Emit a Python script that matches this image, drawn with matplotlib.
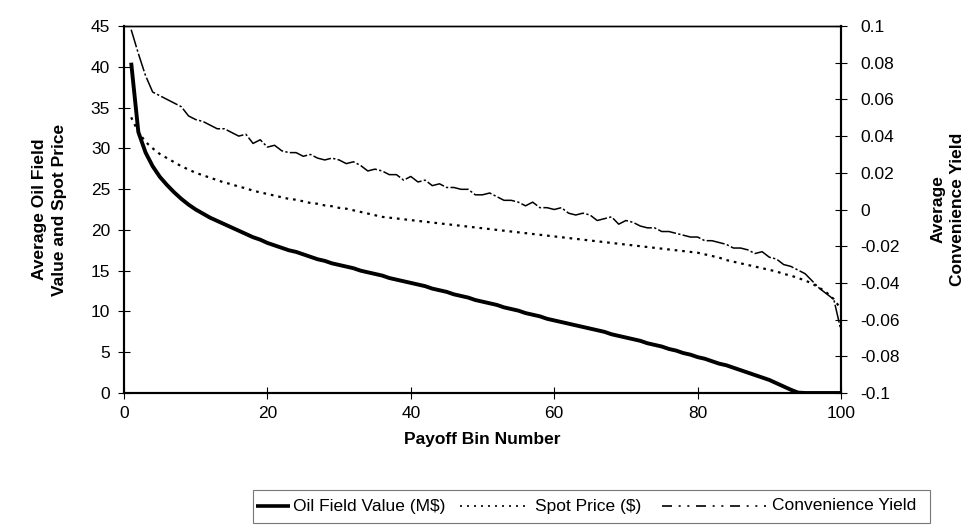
import matplotlib
matplotlib.use("Agg")
import matplotlib.pyplot as plt
from matplotlib.lines import Line2D
from matplotlib.patches import Rectangle

plt.rcParams['font.family'] = ['Liberation Sans', 'DejaVu Sans']

bins = list(range(1, 101))

oil_value = [40.5, 32.0, 29.5, 27.8, 26.5, 25.5, 24.6, 23.8, 23.1, 22.5,
             22.0, 21.5, 21.1, 20.7, 20.3, 19.9, 19.5, 19.1, 18.8, 18.4,
             18.1, 17.8, 17.5, 17.3, 17.0, 16.7, 16.4, 16.2, 15.9, 15.7,
             15.5, 15.3, 15.0, 14.8, 14.6, 14.4, 14.1, 13.9, 13.7, 13.5,
             13.3, 13.1, 12.8, 12.6, 12.4, 12.1, 11.9, 11.7, 11.4, 11.2,
             11.0, 10.8, 10.5, 10.3, 10.1, 9.8, 9.6, 9.4, 9.1, 8.9,
             8.7, 8.5, 8.3, 8.1, 7.9, 7.7, 7.5, 7.2, 7.0, 6.8,
             6.6, 6.4, 6.1, 5.9, 5.7, 5.4, 5.2, 4.9, 4.7, 4.4,
             4.2, 3.9, 3.6, 3.4, 3.1, 2.8, 2.5, 2.2, 1.9, 1.6,
             1.2, 0.8, 0.4, 0.05, 0.0, 0.0, 0.0, 0.0, 0.0, 0.0]

spot_price = [33.8, 32.0, 30.8, 30.0, 29.3, 28.8, 28.3, 27.8, 27.4, 27.0,
              26.7, 26.4, 26.1, 25.8, 25.6, 25.3, 25.1, 24.8, 24.6, 24.4,
              24.2, 24.0, 23.8, 23.7, 23.5, 23.3, 23.2, 23.0, 22.9, 22.7,
              22.6, 22.4, 22.2, 22.0, 21.8, 21.6, 21.5, 21.4, 21.3, 21.2,
              21.1, 21.0, 20.9, 20.8, 20.7, 20.6, 20.5, 20.4, 20.3, 20.2,
              20.1, 20.0, 19.9, 19.8, 19.7, 19.6, 19.5, 19.4, 19.3, 19.2,
              19.1, 19.0, 18.9, 18.8, 18.7, 18.6, 18.5, 18.4, 18.3, 18.2,
              18.1, 18.0, 17.9, 17.8, 17.7, 17.6, 17.5, 17.4, 17.3, 17.2,
              17.0, 16.8, 16.6, 16.3, 16.1, 15.9, 15.7, 15.5, 15.3, 15.1,
              14.9, 14.6, 14.4, 14.1, 13.8, 13.4, 12.9, 12.3, 11.5, 10.3]

conv_yield = [0.098, 0.085, 0.073, 0.064, 0.062, 0.060, 0.058, 0.056, 0.051, 0.049,
              0.048, 0.046, 0.044, 0.044, 0.042, 0.040, 0.041, 0.036, 0.038, 0.034,
              0.035, 0.032, 0.031, 0.031, 0.029, 0.030, 0.028, 0.027, 0.028, 0.027,
              0.025, 0.026, 0.024, 0.021, 0.022, 0.021, 0.019, 0.019, 0.016, 0.018,
              0.015, 0.016, 0.013, 0.014, 0.012, 0.012, 0.011, 0.011, 0.008, 0.008,
              0.009, 0.007, 0.005, 0.005, 0.004, 0.002, 0.004, 0.001, 0.001, 0.000,
              0.001, -0.002, -0.003, -0.002, -0.003, -0.006, -0.005, -0.004, -0.008, -0.006,
              -0.007, -0.009, -0.010, -0.010, -0.012, -0.012, -0.013, -0.014, -0.015, -0.015,
              -0.017, -0.017, -0.018, -0.019, -0.021, -0.021, -0.022, -0.024, -0.023, -0.026,
              -0.027, -0.030, -0.031, -0.033, -0.035, -0.039, -0.043, -0.046, -0.049, -0.066]

x_ticks = [0, 20, 40, 60, 80, 100]
left_ticks = [0, 5, 10, 15, 20, 25, 30, 35, 40, 45]
right_ticks = [-0.1, -0.08, -0.06, -0.04, -0.02, 0, 0.02, 0.04, 0.06, 0.08, 0.1]
right_labels = ['-0.1', '-0.08', '-0.06', '-0.04', '-0.02', '0', '0.02', '0.04', '0.06', '0.08', '0.1']
series_names = ['Oil Field Value (M$)', 'Spot Price ($)', 'Convenience Yield']

W, H = 968, 531
fig = plt.figure(figsize=(W / 100, H / 100), dpi=100)
ax = fig.add_axes([124/W, 1 - 393/H, (841-124)/W, (393-26)/H])
ax2 = ax.twinx()

oil_style = dict(color='black', lw=2.8, solid_capstyle='butt')
spot_style = dict(color='black', lw=1.6, linestyle=(0, (1.2, 2.2)))
cy_style = dict(color='black', lw=1.1, linestyle=(0, (12, 1.5, 1.5, 1.5)))

ax.plot(bins, oil_value, **oil_style)
ax.plot(bins, spot_price, **spot_style)
ax2.plot(bins, conv_yield, **cy_style)

ax.set_xlim(0, 100)
ax.set_ylim(0, 45)
ax2.set_ylim(-0.1, 0.1)
ax.set_xticks(x_ticks)
ax.set_yticks(left_ticks)
ax2.set_yticks(right_ticks)
ax2.set_yticklabels(right_labels)

for a in (ax, ax2):
    for s in a.spines.values():
        s.set_linewidth(1.5)
    a.spines['top'].set_linewidth(1.0)
    a.tick_params(direction='inout', length=8, width=0.8, labelsize=12.5, pad=4)
ax.tick_params(axis='x', pad=5)
ax.tick_params(axis='y', pad=6)
ax2.tick_params(axis='y', pad=10)

ax.set_xlabel('Payoff Bin Number', fontsize=12.5, fontweight='bold', labelpad=8.5)
ax.set_ylabel('Average Oil Field\nValue and Spot Price', fontsize=12.5, fontweight='bold',
              labelpad=17, linespacing=1.4)
ax2.set_ylabel('Average\nConvenience Yield', fontsize=12.5, fontweight='bold',
               labelpad=22, linespacing=1.4)

# Legend box (drawn in figure pixel space, Excel-style spacing)
px = lambda x: x / W
py = lambda y: 1 - y / H
fig.add_artist(Rectangle((px(253), py(523)), px(930) - px(253), py(490) - py(523),
                         transform=fig.transFigure, fill=False, edgecolor='#777777', lw=0.8))
ly = py(506)
legend_items = [
    (256, 290, 293, series_names[0], dict(color='black', lw=2.6, solid_capstyle='butt')),
    (460, 530, 535, series_names[1], dict(color='black', lw=1.2, linestyle=(0, (1.2, 3)))),
    (662, 766, 772, series_names[2], dict(color='black', lw=1.2, linestyle=(0, (6, 4, 1.2, 4, 1.2, 4)))),
]
for x0, x1, xt, name, st in legend_items:
    fig.add_artist(Line2D([px(x0), px(x1)], [ly, ly], transform=fig.transFigure, **st))
    fig.text(px(xt), ly, name, fontsize=12.5, va='center', ha='left')

fig.savefig('out.png', dpi=100)
